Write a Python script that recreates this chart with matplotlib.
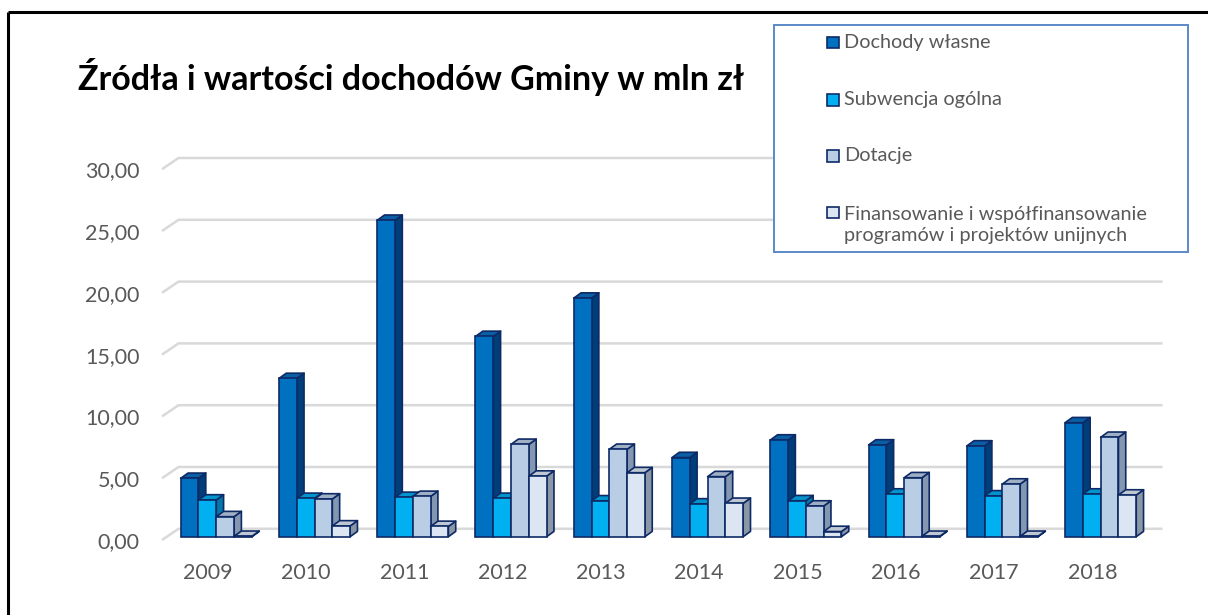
import matplotlib
matplotlib.use("Agg")
import matplotlib.pyplot as plt
from matplotlib.patches import Polygon, Rectangle

# ---------------- data ----------------
years = ["2009", "2010", "2011", "2012", "2013", "2014", "2015", "2016", "2017", "2018"]
series_names = [
    "Dochody własne",
    "Subwencja ogólna",
    "Dotacje",
    "Finansowanie i współfinansowanie\nprogramów i projektów unijnych",
]
dochody_wlasne = [4.72, 12.80, 25.60, 16.20, 19.30, 6.40, 7.82, 7.42, 7.34, 9.22]
subwencja_ogolna = [2.97, 3.10, 3.18, 3.10, 2.90, 2.65, 2.91, 3.45, 3.30, 3.45]
dotacje = [1.62, 3.05, 3.26, 7.47, 7.07, 4.86, 2.48, 4.77, 4.26, 8.04]
finansowanie_ue = [0.03, 0.87, 0.83, 4.90, 5.18, 2.70, 0.42, 0.03, 0.03, 3.37]
y_ticks = [0, 5, 10, 15, 20, 25, 30]
y_tick_labels = ["0,00", "5,00", "10,00", "15,00", "20,00", "25,00", "30,00"]

series = [dochody_wlasne, subwencja_ogolna, dotacje, finansowanie_ue]
front_colors = ["#0070C0", "#00B0F0", "#B9CDE5", "#DCE6F2"]
top_colors = ["#0A5EA3", "#0094CC", "#9FB0C4", "#BEC7D2"]
side_colors = ["#003E7A", "#0078AA", "#8497B0", "#8C97A6"]
edge_color = "#0E2A66"

FONT = "Lato"
GRAY = "#595959"

W, H = 1208, 615
fig = plt.figure(figsize=(W / 100, H / 100), dpi=100)
fig.patch.set_facecolor("white")

# main chart axes
floor_left_px, floor_right_px, floor_front_px = 162, 1146, 540
px_per_val = 12.36
ymax = 32
ax = fig.add_axes([floor_left_px / W, (H - floor_front_px) / H,
                   (floor_right_px - floor_left_px) / W, ymax * px_per_val / H])
ax.set_zorder(1)
ax.patch.set_alpha(0)
x_lo, x_hi = -0.468, 9.546
ax.set_xlim(x_lo, x_hi)
ax.set_ylim(0, ymax)
for s in ax.spines.values():
    s.set_visible(False)

# overlay axes for layout elements (frame, title, legend) in pixel units
lay = fig.add_axes([0, 0, 1, 1])
lay.set_xlim(0, W)
lay.set_ylim(H, 0)
lay.axis("off")
lay.set_zorder(2)

px_per_cat = (floor_right_px - floor_left_px) / (x_hi - x_lo)
def dxu(px):
    return px / px_per_cat
def dyu(px):
    return px / px_per_val

# gridlines on back wall with slanted floor segment
GX, GY = dxu(16.5), dyu(11.2)
for v in y_ticks:
    ax.plot([x_lo, x_lo + GX, x_hi + GX], [v, v + GY, v + GY],
            color="#D9D9D9", lw=1.8, clip_on=False, zorder=0,
            solid_capstyle="butt")

# 3D bars: side and top faces
bw = dxu(17.8)
left0 = dxu(180.7 - 208)
lift = dyu(3.3)
DX, DY = dxu(7.3), dyu(5.3)
lw = 1.2
for i in range(len(years)):
    for j, vals in enumerate(series):
        v = vals[i]
        x0 = i + left0 + j * bw
        x1 = x0 + bw
        b = lift
        t = lift + v
        side = Polygon([(x1, b), (x1 + DX, b + DY), (x1 + DX, t + DY), (x1, t)],
                       closed=True, facecolor=side_colors[j], edgecolor=edge_color,
                       lw=lw, joinstyle="round", zorder=2 + j * 3, clip_on=False)
        top = Polygon([(x0, t), (x1, t), (x1 + DX, t + DY), (x0 + DX, t + DY)],
                      closed=True, facecolor=top_colors[j], edgecolor=edge_color,
                      lw=lw, joinstyle="round", zorder=3 + j * 3, clip_on=False)
        ax.add_patch(side)
        ax.add_patch(top)

# front faces
for j, vals in enumerate(series):
    xs = [i + left0 + j * bw for i in range(len(years))]
    ax.bar(xs, vals, width=bw, bottom=lift, align="edge",
           color=front_colors[j], edgecolor=edge_color, linewidth=lw,
           zorder=4 + j * 3, clip_on=False)

ax.set_yticks(y_ticks)
ax.set_yticklabels(y_tick_labels, fontfamily=FONT, fontsize=15.5, color=GRAY)
ax.set_xticks(range(len(years)))
ax.set_xticklabels(years, fontfamily=FONT, fontsize=15.5, color=GRAY)
ax.tick_params(axis="y", length=0, pad=16)
ax.tick_params(axis="x", length=0, pad=16.5)

# outer frame (left and top edges visible)
lay.plot([8, 8], [12, H], color="black", lw=2.2, solid_capstyle="butt")
lay.plot([8, W], [12, 12], color="black", lw=2.2, solid_capstyle="butt")

# title
lay.text(78, 77, "Źródła i wartości dochodów Gminy w mln zł", fontfamily=FONT,
         fontweight="bold", fontsize=24.5, color="black", ha="left", va="center")

# legend (manual)
lay.add_patch(Rectangle((774, 25), 414, 227, facecolor="white",
                        edgecolor="#5A8AC6", lw=1.4, zorder=5))
row_y = [42.7, 100, 156, 212.7]
for j, name in enumerate(series_names):
    yc = row_y[j]
    lay.add_patch(Rectangle((827, yc - 5.8), 11.6, 11.6, facecolor=front_colors[j],
                            edgecolor=edge_color, lw=1.2, zorder=6))
    nlines = name.count("\n") + 1
    lay.text(844, yc + (nlines - 1) * 12.3, name, fontfamily=FONT, fontsize=14.3,
             color=GRAY, ha="left", va="center", linespacing=1.22, zorder=6)

fig.savefig("out.png", dpi=100, facecolor="white")
